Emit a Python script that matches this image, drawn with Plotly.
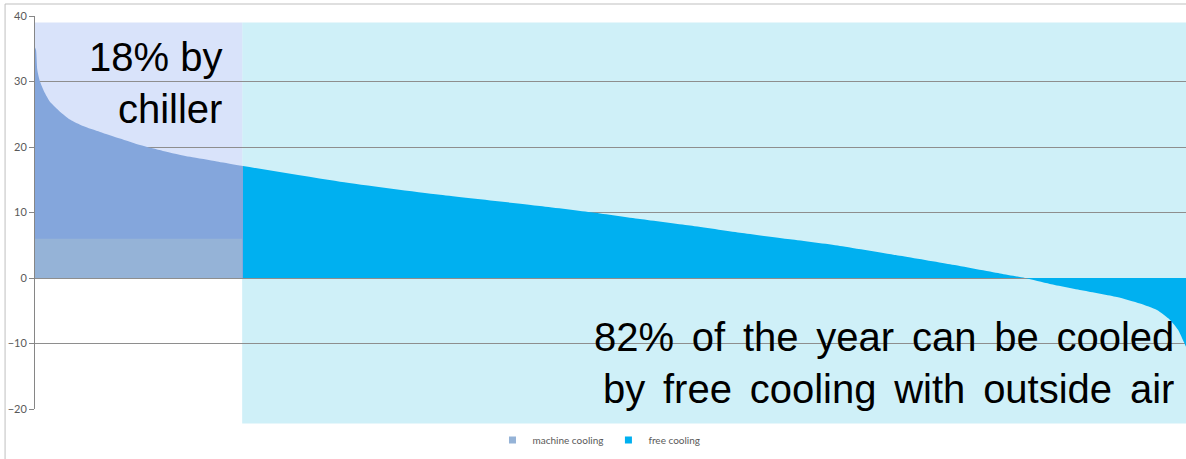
import plotly.graph_objects as go

# Share of the year (%) sorted by outside temperature (°C)
machine_pct = [0, 0.09, 0.2, 0.43, 0.87, 1.30, 2.17, 3.04, 4.17, 5.65, 7.38, 9.12, 11.12, 13.47, 15.81, 18.07]
machine_temp = [35.2, 34.8, 31.8, 30.0, 28.2, 26.9, 25.4, 24.2, 23.2, 22.3, 21.3, 20.3, 19.4, 18.5, 17.8, 17.1]

free_pct = [18.07, 26.5, 35.19, 43.87, 48.48, 52.56, 56.91, 61.25, 65.6, 69.94, 75.15, 79.5, 83.84,
            86.01, 88.18, 91.05, 94.0, 96.0, 97.48, 98.61, 99.31, 99.74, 100]
free_temp = [17.1, 14.7, 12.7, 11.0, 10.0, 9.0, 8.0, 6.9, 5.9, 4.9, 3.4, 2.1, 0.7,
             0.0, -0.9, -1.9, -2.9, -3.9, -4.9, -6.4, -7.9, -9.5, -10.5]

y_ticks = [-20, -10, 0, 10, 20, 30, 40]
series_names = ["machine cooling", "free cooling"]
series_colors = ["#95B3D7", "#00B0F0"]
chiller_share = 18
label_chiller = "18% by<br>chiller"
label_free = "82% of the year can be cooled<br>by free cooling with outside air"

Y_MIN, Y_MAX = -20, 40


def ypaper(v):
    return (v - Y_MIN) / (Y_MAX - Y_MIN)


def wide(s):
    # slightly wider word spacing, as in the original slide text
    return s.replace(" ", " \u2006")


fig = go.Figure()

fig.add_trace(go.Scatter(x=machine_pct, y=machine_temp, mode="lines", fill="tozeroy",
                         line=dict(width=0, color="#84A6DC", shape="spline", smoothing=0.6),
                         fillcolor="#84A6DC", showlegend=False, hoverinfo="skip"))
fig.add_trace(go.Scatter(x=free_pct, y=free_temp, mode="lines", fill="tozeroy",
                         line=dict(width=0, color="#00B0F0", shape="spline", smoothing=0.6),
                         fillcolor="#00B0F0", showlegend=False, hoverinfo="skip"))

for name, col in zip(series_names, series_colors):
    fig.add_trace(go.Scatter(x=[None], y=[None], mode="markers", name=name,
                             marker=dict(symbol="square", size=7, color=col)))

shapes = [
    # lavender box behind chiller portion
    dict(type="rect", xref="x", yref="y", x0=0, x1=chiller_share, y0=6, y1=39,
         fillcolor="#D9E3FA", line=dict(width=0), layer="below"),
    # cyan box behind free-cooling portion
    dict(type="rect", xref="x", yref="paper", x0=chiller_share, x1=100,
         y0=ypaper(-22.2), y1=ypaper(39),
         fillcolor="#CFF0F8", line=dict(width=0), layer="below"),
    # lower band of chiller area
    dict(type="rect", xref="x", yref="y", x0=0, x1=chiller_share, y0=0, y1=6,
         fillcolor="#95B3D7", line=dict(width=0), layer="above"),
    # chart frame (top / left)
    dict(type="path", xref="paper", yref="paper",
         path="M -0.026 -0.2 L -0.026 1.0305 L 1.05 1.0305",
         line=dict(color="#BFBFBF", width=1)),
]

annotations = [
    dict(text=label_chiller, x=16.4, y=29.7, xref="x", yref="y",
         xanchor="right", yanchor="middle", align="right", showarrow=False,
         font=dict(family="Liberation Sans, Arial", size=40, color="#000000")),
    dict(text=wide(label_free), x=99.1, y=-13.0, xref="x", yref="y",
         xanchor="right", yanchor="middle", align="right", showarrow=False,
         font=dict(family="Liberation Sans, Arial", size=40, color="#000000")),
]

fig.update_layout(
    width=1186, height=459,
    margin=dict(l=35, r=0, t=16, b=50),
    paper_bgcolor="white", plot_bgcolor="white",
    shapes=shapes, annotations=annotations,
    showlegend=True,
    legend=dict(orientation="h", x=0.49, xanchor="center", y=-0.079, yanchor="middle",
                font=dict(family="Lato, Carlito, sans-serif", size=10, color="#595959"),
                itemwidth=30, tracegroupgap=0, bgcolor="rgba(0,0,0,0)"),
    xaxis=dict(range=[0, 100], showticklabels=False, showgrid=False, zeroline=False,
               showline=False, ticks=""),
    yaxis=dict(range=[Y_MIN, Y_MAX], tickvals=y_ticks, showgrid=True, gridcolor="#8E8E8E",
               gridwidth=1, zeroline=False, showline=True, linecolor="#868686", linewidth=1,
               ticks="outside", ticklen=5, tickcolor="#868686",
               tickfont=dict(family="Lato, Carlito, sans-serif", size=11, color="#595959")),
)

fig.write_html("out.html")
